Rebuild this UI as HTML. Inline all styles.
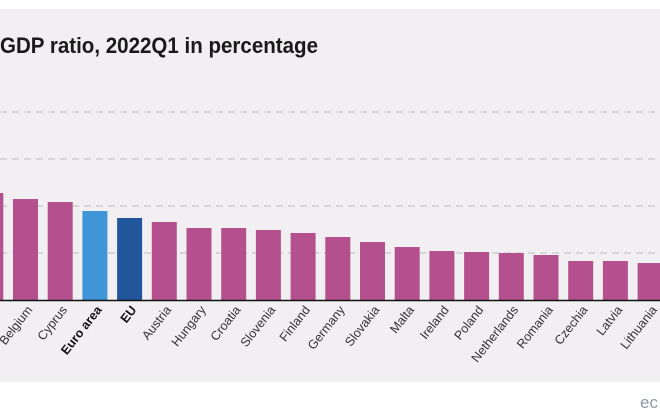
<!DOCTYPE html>
<html><head><meta charset="utf-8"><style>
html,body{margin:0;padding:0;background:#fff;width:660px;height:420px;overflow:hidden}
svg{display:block}
</style></head><body>
<svg width="660" height="420" xmlns="http://www.w3.org/2000/svg" font-family="'Liberation Sans Narrow','Liberation Sans',sans-serif">
<rect x="0" y="9" width="660" height="373" fill="#f1eff1"/>
<text x="0" y="53" font-size="22" font-weight="bold" fill="#1a1a1a" textLength="318" lengthAdjust="spacingAndGlyphs">GDP ratio, 2022Q1 in percentage</text>
<g stroke="#c8c6c8" stroke-width="1.2" stroke-dasharray="7,5">
<line x1="0" y1="112" x2="660" y2="112"/>
<line x1="0" y1="159" x2="660" y2="159"/>
<line x1="0" y1="206" x2="660" y2="206"/>
<line x1="0" y1="253" x2="660" y2="253"/>
</g>
<g id="bars"></g>
<line x1="0" y1="300.5" x2="660" y2="300.5" stroke="#111" stroke-width="1.5"/>
<g id="labels" font-size="12.5" fill="#333"></g>
<text x="640" y="408" font-size="17" fill="#8a9aa8" font-family="'Liberation Sans',sans-serif">ec</text>
</svg>
<script>
var d=[["",193],["Belgium",199],["Cyprus",202],["Euro area",211,"#3f95d6",1],["EU",218,"#22569c",1],["Austria",222],["Hungary",228],["Croatia",228],["Slovenia",230],["Finland",233],["Germany",237],["Slovakia",242],["Malta",247],["Ireland",251],["Poland",252],["Netherlands",253],["Romania",255],["Czechia",261],["Latvia",261],["Lithuania",263]];
var b=document.getElementById('bars'),l=document.getElementById('labels'),ns="http://www.w3.org/2000/svg";
d.forEach(function(e,k){var i=k-1;var x=13+34.7*i;
var r=document.createElementNS(ns,'rect');r.setAttribute('x',x);r.setAttribute('y',e[1]);r.setAttribute('width',25);r.setAttribute('height',300-e[1]);r.setAttribute('fill',e[2]||'#b5508f');b.appendChild(r);
if(e[0]){var t=document.createElementNS(ns,'text');var cx=x+20,cy=310;t.setAttribute('x',cx);t.setAttribute('y',cy);t.setAttribute('text-anchor','end');t.setAttribute('transform','rotate(-52 '+cx+' '+cy+')');if(e[3]){t.setAttribute('font-weight','bold');t.setAttribute('fill','#111');}t.textContent=e[0];l.appendChild(t);}
});
</script>
</body></html>
